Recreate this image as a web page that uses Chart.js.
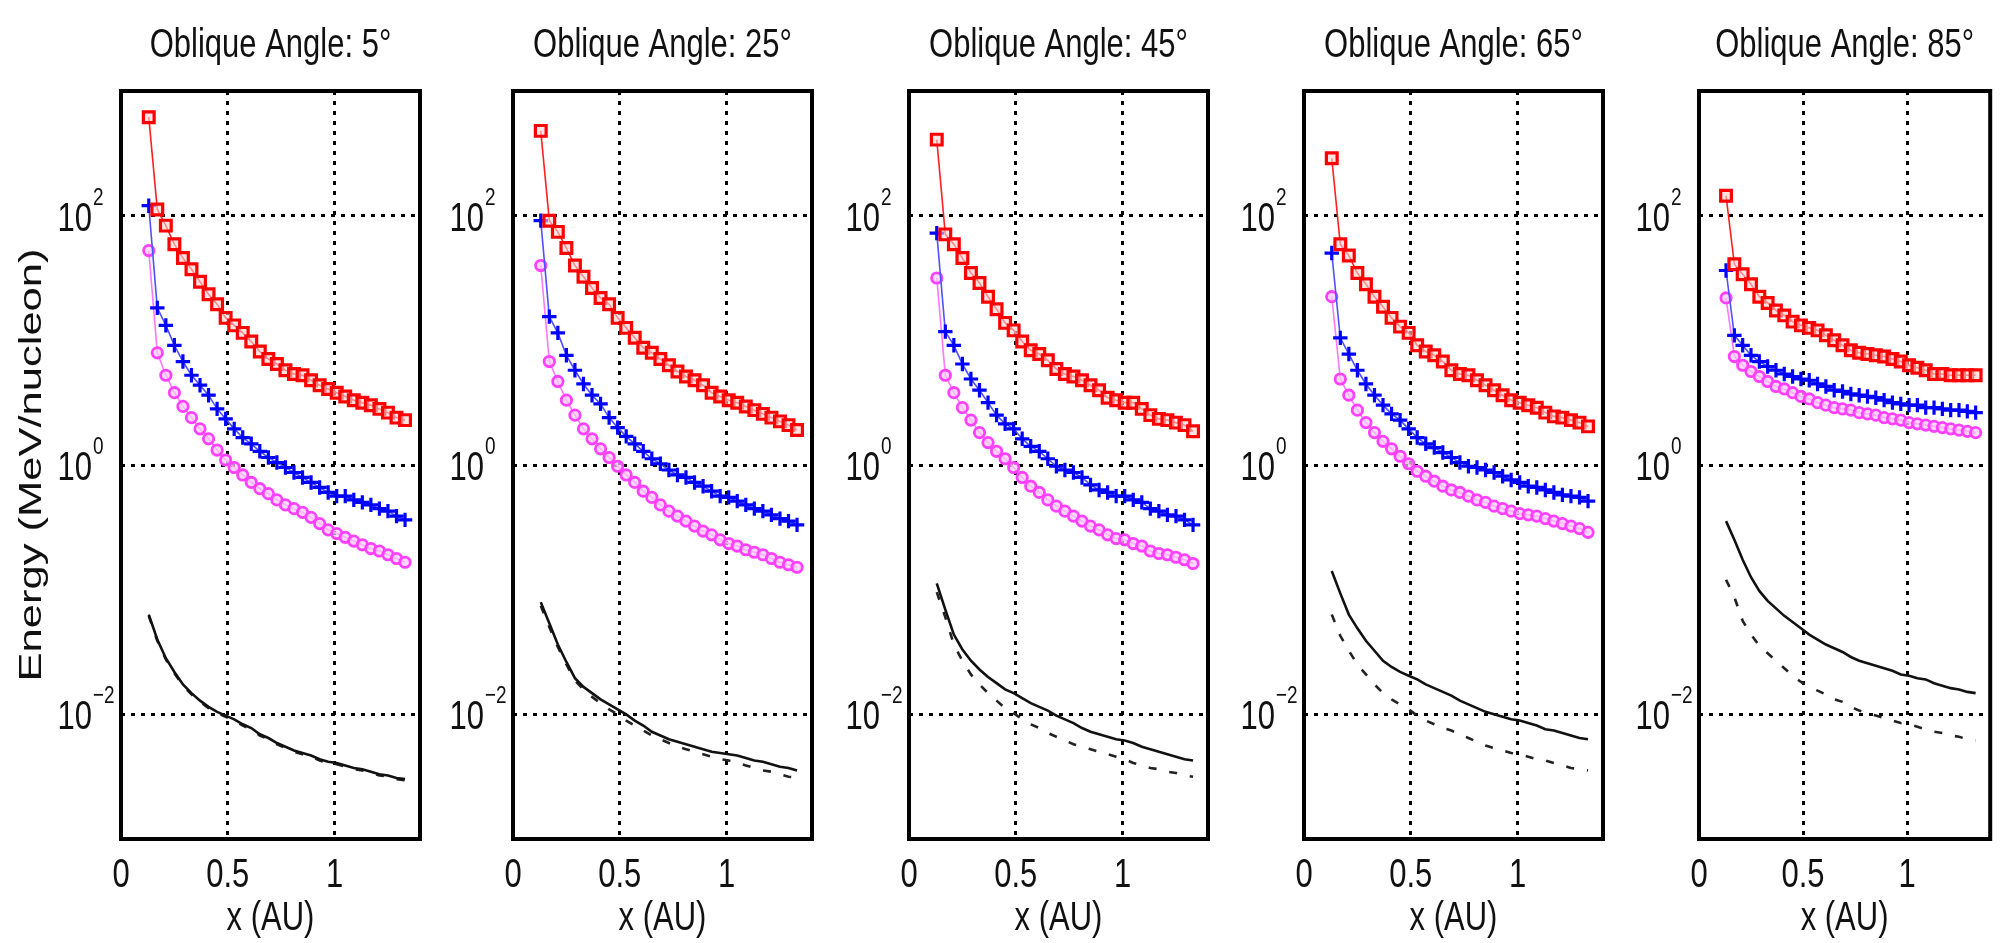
<!DOCTYPE html>
<html>
<head>
<meta charset="utf-8">
<script src="https://cdn.jsdelivr.net/npm/chart.js@4.4.1/dist/chart.umd.min.js"></script>
<style>
  html, body { margin: 0; padding: 0; background: #fff; }
  #wrap { position: relative; width: 2001px; height: 943px; overflow: hidden; background: #fff; }
  #wrap canvas { position: absolute; left: 0; top: 0; }
</style>
</head>
<body>
<div id="wrap"></div>
<script>
// x positions of the samples (AU)
const xAU = [0.13, 0.17, 0.21, 0.25, 0.29, 0.33, 0.37, 0.41, 0.45, 0.49, 0.53, 0.57, 0.61, 0.65, 0.69, 0.73,
  0.77, 0.81, 0.85, 0.89, 0.93, 0.97, 1.01, 1.05, 1.09, 1.13, 1.17, 1.21, 1.25, 1.29, 1.33];

const angles = [5, 25, 45, 65, 85];
const xTicks = [0, 0.5, 1];
const xTickLabels = ["0", "0.5", "1"];
const yTicks = [1e-2, 1, 1e2];
const yTickExps = ["\u22122", "0", "2"];

// all series below: log10 of energy (MeV/nucleon)
const red5 = [2.79, 2.05, 1.92, 1.77, 1.66, 1.57, 1.47, 1.37, 1.29, 1.18, 1.12, 1.06, 0.99, 0.91, 0.85, 0.81,
  0.76, 0.73, 0.72, 0.68, 0.64, 0.61, 0.58, 0.55, 0.52, 0.50, 0.48, 0.45, 0.42, 0.38, 0.36];
const blue5 = [2.08, 1.26, 1.12, 0.96, 0.83, 0.72, 0.64, 0.56, 0.45, 0.37, 0.29, 0.22, 0.17, 0.11, 0.06, 0.02,
  -0.02, -0.06, -0.10, -0.14, -0.18, -0.22, -0.25, -0.25, -0.28, -0.30, -0.32, -0.35, -0.37, -0.41, -0.44];
const mag5 = [1.72, 0.90, 0.72, 0.58, 0.47, 0.38, 0.29, 0.21, 0.12, 0.04, -0.02, -0.08, -0.14, -0.19, -0.23, -0.28,
  -0.32, -0.35, -0.38, -0.42, -0.47, -0.52, -0.55, -0.58, -0.61, -0.64, -0.67, -0.69, -0.72, -0.75, -0.78];
const solid5 = [-1.20, -1.40, -1.55, -1.66, -1.76, -1.83, -1.89, -1.94, -1.98, -2.01, -2.04, -2.08, -2.11, -2.16, -2.19, -2.23,
  -2.26, -2.29, -2.31, -2.33, -2.36, -2.38, -2.39, -2.41, -2.43, -2.44, -2.46, -2.48, -2.49, -2.51, -2.52];
const dash5 = [-1.21, -1.41, -1.56, -1.67, -1.77, -1.84, -1.90, -1.95, -1.99, -2.02, -2.05, -2.09, -2.12, -2.17, -2.20, -2.24,
  -2.27, -2.30, -2.32, -2.34, -2.37, -2.39, -2.40, -2.42, -2.44, -2.45, -2.47, -2.49, -2.50, -2.52, -2.53];

const red25 = [2.68, 1.96, 1.87, 1.74, 1.60, 1.51, 1.42, 1.34, 1.29, 1.18, 1.10, 1.02, 0.94, 0.90, 0.85, 0.80,
  0.75, 0.71, 0.68, 0.64, 0.58, 0.55, 0.52, 0.50, 0.47, 0.44, 0.41, 0.38, 0.35, 0.32, 0.28];
const blue25 = [1.96, 1.19, 1.06, 0.88, 0.76, 0.65, 0.56, 0.49, 0.38, 0.30, 0.23, 0.17, 0.11, 0.05, 0.01, -0.04,
  -0.08, -0.10, -0.14, -0.17, -0.21, -0.25, -0.26, -0.29, -0.32, -0.35, -0.37, -0.40, -0.43, -0.45, -0.48];
const mag25 = [1.60, 0.83, 0.67, 0.52, 0.40, 0.29, 0.21, 0.13, 0.06, -0.01, -0.08, -0.14, -0.21, -0.26, -0.32, -0.37,
  -0.41, -0.45, -0.49, -0.53, -0.56, -0.60, -0.63, -0.65, -0.68, -0.70, -0.72, -0.75, -0.78, -0.80, -0.82];
const solid25 = [-1.10, -1.27, -1.44, -1.58, -1.71, -1.78, -1.83, -1.88, -1.92, -1.96, -2.00, -2.05, -2.09, -2.14, -2.17, -2.20,
  -2.22, -2.24, -2.26, -2.28, -2.30, -2.31, -2.32, -2.33, -2.35, -2.37, -2.38, -2.40, -2.42, -2.43, -2.45];
const dash25 = [-1.13, -1.30, -1.46, -1.60, -1.73, -1.80, -1.86, -1.91, -1.96, -2.00, -2.05, -2.09, -2.13, -2.17, -2.20, -2.23,
  -2.26, -2.28, -2.30, -2.32, -2.34, -2.36, -2.37, -2.39, -2.41, -2.43, -2.45, -2.46, -2.48, -2.50, -2.51];

const red45 = [2.61, 1.85, 1.77, 1.66, 1.54, 1.46, 1.35, 1.25, 1.14, 1.08, 0.99, 0.92, 0.89, 0.84, 0.77, 0.73,
  0.71, 0.68, 0.64, 0.60, 0.54, 0.52, 0.50, 0.50, 0.45, 0.40, 0.37, 0.36, 0.34, 0.32, 0.27];
const blue45 = [1.86, 1.07, 0.96, 0.81, 0.69, 0.60, 0.50, 0.40, 0.33, 0.29, 0.21, 0.15, 0.11, 0.05, -0.01, -0.04,
  -0.06, -0.10, -0.16, -0.20, -0.22, -0.25, -0.25, -0.28, -0.30, -0.35, -0.37, -0.40, -0.41, -0.44, -0.48];
const mag45 = [1.50, 0.72, 0.58, 0.46, 0.36, 0.26, 0.18, 0.11, 0.05, -0.02, -0.10, -0.17, -0.22, -0.28, -0.33, -0.37,
  -0.41, -0.45, -0.49, -0.52, -0.56, -0.59, -0.60, -0.63, -0.65, -0.69, -0.71, -0.72, -0.74, -0.76, -0.79];
const solid45 = [-0.95, -1.16, -1.36, -1.48, -1.57, -1.64, -1.70, -1.75, -1.80, -1.83, -1.87, -1.91, -1.94, -1.97, -2.01, -2.04,
  -2.07, -2.11, -2.14, -2.16, -2.18, -2.20, -2.21, -2.23, -2.26, -2.28, -2.30, -2.32, -2.34, -2.36, -2.37];
const dash45 = [-1.02, -1.22, -1.44, -1.57, -1.68, -1.76, -1.83, -1.89, -1.95, -1.99, -2.04, -2.08, -2.11, -2.15, -2.18, -2.21,
  -2.24, -2.26, -2.28, -2.30, -2.32, -2.34, -2.36, -2.39, -2.41, -2.43, -2.44, -2.46, -2.47, -2.49, -2.50];

const red65 = [2.46, 1.77, 1.68, 1.54, 1.45, 1.35, 1.27, 1.18, 1.11, 1.06, 0.96, 0.91, 0.88, 0.83, 0.76, 0.73,
  0.72, 0.68, 0.64, 0.60, 0.56, 0.52, 0.50, 0.48, 0.46, 0.42, 0.39, 0.38, 0.36, 0.34, 0.31];
const blue65 = [1.70, 1.02, 0.89, 0.76, 0.65, 0.56, 0.48, 0.41, 0.36, 0.29, 0.22, 0.17, 0.14, 0.10, 0.06, 0.02,
  -0.01, -0.02, -0.04, -0.06, -0.09, -0.12, -0.14, -0.17, -0.18, -0.20, -0.22, -0.24, -0.25, -0.26, -0.29];
const mag65 = [1.35, 0.69, 0.56, 0.44, 0.34, 0.26, 0.19, 0.13, 0.07, 0.01, -0.05, -0.09, -0.13, -0.17, -0.20, -0.22,
  -0.25, -0.28, -0.30, -0.33, -0.35, -0.37, -0.39, -0.40, -0.41, -0.43, -0.45, -0.47, -0.49, -0.51, -0.54];
const solid65 = [-0.85, -1.03, -1.20, -1.31, -1.41, -1.49, -1.57, -1.62, -1.66, -1.69, -1.72, -1.76, -1.79, -1.82, -1.85, -1.89,
  -1.92, -1.95, -1.98, -2.00, -2.02, -2.04, -2.05, -2.07, -2.09, -2.12, -2.13, -2.15, -2.17, -2.19, -2.20];
const dash65 = [-1.20, -1.37, -1.49, -1.60, -1.68, -1.76, -1.83, -1.88, -1.92, -1.96, -2.01, -2.05, -2.08, -2.11, -2.13, -2.16,
  -2.19, -2.22, -2.25, -2.27, -2.29, -2.31, -2.32, -2.34, -2.36, -2.37, -2.39, -2.41, -2.43, -2.44, -2.45];

const red85 = [2.16, 1.61, 1.53, 1.45, 1.35, 1.30, 1.24, 1.20, 1.15, 1.12, 1.10, 1.08, 1.04, 1.00, 0.96, 0.92,
  0.90, 0.89, 0.88, 0.87, 0.85, 0.83, 0.80, 0.78, 0.76, 0.73, 0.73, 0.72, 0.72, 0.72, 0.72];
const blue85 = [1.56, 1.04, 0.96, 0.88, 0.83, 0.79, 0.76, 0.73, 0.71, 0.69, 0.68, 0.65, 0.63, 0.60, 0.59, 0.57,
  0.56, 0.55, 0.54, 0.52, 0.50, 0.49, 0.48, 0.48, 0.46, 0.46, 0.45, 0.44, 0.44, 0.43, 0.42];
const mag85 = [1.34, 0.87, 0.80, 0.75, 0.71, 0.67, 0.63, 0.61, 0.58, 0.55, 0.53, 0.50, 0.48, 0.46, 0.45, 0.44,
  0.42, 0.41, 0.40, 0.38, 0.37, 0.36, 0.34, 0.33, 0.32, 0.31, 0.30, 0.29, 0.28, 0.27, 0.26];
const solid85 = [-0.45, -0.60, -0.76, -0.90, -1.01, -1.09, -1.15, -1.21, -1.26, -1.31, -1.36, -1.40, -1.44, -1.47, -1.50, -1.54,
  -1.57, -1.59, -1.61, -1.63, -1.65, -1.68, -1.69, -1.71, -1.72, -1.75, -1.77, -1.79, -1.80, -1.82, -1.83];
const dash85 = [-0.92, -1.06, -1.25, -1.36, -1.45, -1.51, -1.57, -1.63, -1.69, -1.74, -1.78, -1.81, -1.84, -1.88, -1.90, -1.94,
  -1.97, -1.99, -2.01, -2.03, -2.05, -2.07, -2.08, -2.10, -2.12, -2.14, -2.15, -2.17, -2.18, -2.20, -2.21];

const panels = [
  { angle: angles[0], red: red5, blue: blue5, mag: mag5, solid: solid5, dash: dash5 },
  { angle: angles[1], red: red25, blue: blue25, mag: mag25, solid: solid25, dash: dash25 },
  { angle: angles[2], red: red45, blue: blue45, mag: mag45, solid: solid45, dash: dash45 },
  { angle: angles[3], red: red65, blue: blue65, mag: mag65, solid: solid65, dash: dash65 },
  { angle: angles[4], red: red85, blue: blue85, mag: mag85, solid: solid85, dash: dash85 },
];

// layout (page pixels)
const W = 2001, H = 943;
const BOX_LEFT = [121, 513, 909, 1304, 1699];
const BOX_W = 299, BOX_TOP = 91, BOX_BOTTOM = 839;
const FONT = '"Liberation Sans", Arial, Helvetica, sans-serif';
const STRETCH = 1.3;

function pts(vals) {
  return xAU.map((x, i) => ({ x, y: Math.pow(10, vals[i]) }));
}

function txt(ctx, s, x, y, size, align, sy) {
  ctx.save();
  ctx.translate(x, y);
  ctx.scale(1, sy || STRETCH);
  ctx.font = size + "px " + FONT;
  ctx.textAlign = align;
  ctx.textBaseline = "alphabetic";
  ctx.fillText(s, 0, 0);
  ctx.restore();
}

const panelFrame = {
  id: "panelFrame",
  afterDatasetsDraw(chart) {
    const { ctx, chartArea: a } = chart;
    ctx.save();
    ctx.strokeStyle = "#000";
    ctx.lineWidth = 4;
    ctx.strokeRect(a.left, a.top, a.right - a.left, a.bottom - a.top);
    ctx.restore();
  },
  afterDraw(chart, args, opts) {
    const { ctx, chartArea: a, scales } = chart;
    const cx = (a.left + a.right) / 2;
    ctx.save();
    ctx.fillStyle = "#111";
    txt(ctx, "Oblique Angle: " + opts.angle + "\u00B0", cx, 57, 31, "center");
    xTicks.forEach((v, i) => {
      txt(ctx, xTickLabels[i], scales.x.getPixelForValue(v), 887, 31, "center");
    });
    txt(ctx, "x (AU)", cx, 930, 31, "center");
    yTicks.forEach((v, i) => {
      const py = scales.y.getPixelForValue(v);
      txt(ctx, "10", a.left - 29, py + 15, 31, "right");
      txt(ctx, yTickExps[i], a.left - 28, py - 11, 19, "left");
    });
    if (opts.yLabel) {
      ctx.translate(41, 465);
      ctx.scale(1, 1.36);
      ctx.rotate(-Math.PI / 2);
      ctx.font = "32px " + FONT;
      ctx.textAlign = "center";
      ctx.textBaseline = "alphabetic";
      ctx.fillText("Energy (MeV/nucleon)", 0, 0);
    }
    ctx.restore();
  },
};

const gridOpts = { color: "#000", lineWidth: 3, drawTicks: false, borderDash: [4, 6] };
const borderOpts = { display: false, dash: [4, 6] };

const wrap = document.getElementById("wrap");

panels.forEach((p, k) => {
  const canvas = document.createElement("canvas");
  canvas.width = W;
  canvas.height = H;
  canvas.style.width = W + "px";
  canvas.style.height = H + "px";
  wrap.appendChild(canvas);

  const left = BOX_LEFT[k];
  new Chart(canvas, {
    type: "line",
    data: {
      datasets: [
        {
          data: pts(p.red), borderColor: "#ff2020", borderWidth: 1.6,
          pointStyle: "rect", pointRadius: 7.6, pointBorderWidth: 3.2,
          pointBorderColor: "#ff0000", pointBackgroundColor: "rgba(255,210,210,0.6)",
        },
        {
          data: pts(p.blue), borderColor: "#5050ff", borderWidth: 1.6,
          pointStyle: "cross", pointRadius: 7.2, pointBorderWidth: 3.2,
          pointBorderColor: "#0000ff", pointBackgroundColor: "#0000ff",
        },
        {
          data: pts(p.mag), borderColor: "#ff77ff", borderWidth: 1.6,
          pointStyle: "circle", pointRadius: 5.2, pointBorderWidth: 2.8,
          pointBorderColor: "#ff40ff", pointBackgroundColor: "rgba(255,200,255,0.7)",
        },
        { data: pts(p.solid), borderColor: "#111", borderWidth: 2.6, pointRadius: 0 },
        { data: pts(p.dash), borderColor: "#222", borderWidth: 2.6, borderDash: [8, 13], pointRadius: 0 },
      ],
    },
    options: {
      responsive: false,
      devicePixelRatio: 1,
      animation: false,
      events: [],
      layout: { padding: { left: left, right: W - left - BOX_W, top: BOX_TOP, bottom: H - BOX_BOTTOM } },
      plugins: {
        legend: { display: false },
        tooltip: { enabled: false },
        panelFrame: { angle: p.angle, yLabel: k === 0 },
      },
      elements: { line: { tension: 0, fill: false } },
      scales: {
        x: {
          type: "linear", min: 0, max: 1.4,
          afterBuildTicks: (ax) => { ax.ticks = xTicks.map((v) => ({ value: v })); },
          ticks: { display: false },
          grid: gridOpts, border: borderOpts,
        },
        y: {
          type: "logarithmic", min: 1e-3, max: 1e3,
          afterBuildTicks: (ax) => { ax.ticks = yTicks.map((v) => ({ value: v })); },
          ticks: { display: false },
          grid: gridOpts, border: borderOpts,
        },
      },
    },
    plugins: [panelFrame],
  });
});
</script>
</body>
</html>
